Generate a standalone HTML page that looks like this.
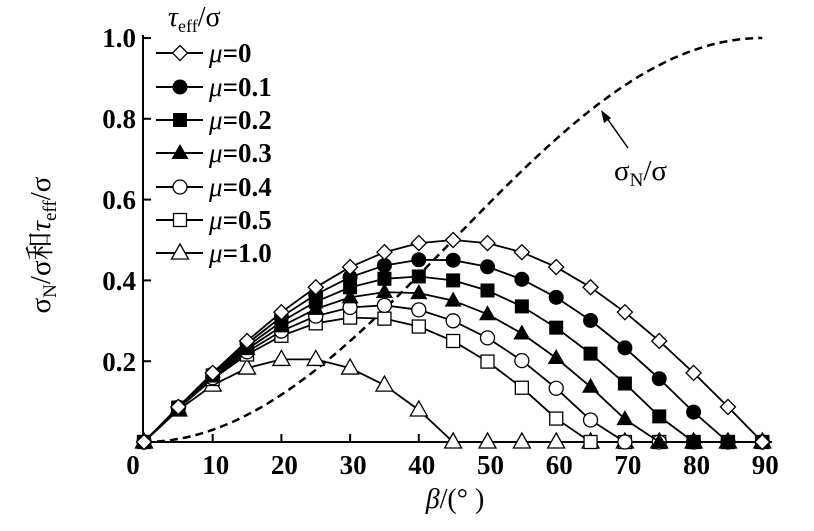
<!DOCTYPE html>
<html><head><meta charset="utf-8"><style>
html,body{margin:0;padding:0;background:#fff;width:814px;height:531px;overflow:hidden}
svg text{font-family:"Liberation Serif","Noto Serif CJK SC",serif;fill:#000}
</style></head><body>
<svg id="s" width="814" height="531" xmlns="http://www.w3.org/2000/svg">
<g stroke="#000" stroke-width="2" fill="none">
<line x1="143" y1="35" x2="143" y2="442"/>
<line x1="143" y1="442" x2="772" y2="442"/>
</g>
<g id="ticks" stroke="#000" stroke-width="2"></g>
<g font-size="27" font-weight="bold" text-anchor="end">
<text x="136" y="47">1.0</text>
<text x="136" y="128">0.8</text>
<text x="136" y="209">0.6</text>
<text x="136" y="290">0.4</text>
<text x="136" y="371">0.2</text>
</g>
<g font-size="27" font-weight="bold" text-anchor="middle" id="xl"></g>
<text x="455" y="508" font-size="28" text-anchor="middle"><tspan font-style="italic">β</tspan>/(° )</text>
<text transform="translate(50,245) rotate(-90)" font-size="29" text-anchor="middle">σ<tspan font-size="19" dy="6">N</tspan><tspan dy="-6">/σ和</tspan><tspan font-style="italic">τ</tspan><tspan font-size="19" dy="6">eff</tspan><tspan dy="-6">/σ</tspan></text>
<text x="168" y="26" font-size="28"><tspan font-style="italic">τ</tspan><tspan font-size="18" dy="6">eff</tspan><tspan dy="-6">/σ</tspan></text>
<line x1="628" y1="148" x2="604" y2="114" stroke="#000" stroke-width="1.5"/>
<polygon points="601,110 604,123 611,118" fill="#000"/>
<text x="614" y="180" font-size="29">σ<tspan font-size="19" dy="6">N</tspan><tspan dy="-6">/σ</tspan></text>
<g id="plot"></g>
<g id="leg"></g>
</svg>
<script>
var NS="http://www.w3.org/2000/svg";
function el(p,t,a){var e=document.createElementNS(NS,t);for(var k in a)e.setAttribute(k,a[k]);p.appendChild(e);return e;}
var X=function(b){return 144+b*6.87};var Y=function(v){return 442-v*404};
var tk=document.getElementById('ticks'),xl=document.getElementById('xl');
for(var i=0;i<=9;i++){var x=X(i*10);if(i>0)el(tk,'line',{x1:x,y1:442,x2:x,y2:434});var t=el(xl,'text',{x:i==0?133:x+3,y:474});t.textContent=i*10;}
for(var v=0.2;v<1.01;v+=0.2){el(tk,'line',{x1:143,y1:Y(v),x2:151,y2:Y(v)});}
var plot=document.getElementById('plot');
var d='';for(var b=0;b<=90;b+=1){var r=b*Math.PI/180;d+=(b?'L':'M')+X(b).toFixed(1)+' '+Y(Math.pow(Math.sin(r),2)).toFixed(1);}
el(plot,'path',{d:d,fill:'none',stroke:'#000','stroke-width':2.5,'stroke-dasharray':'8,5'});
var mus=[0,0.1,0.2,0.3,0.4,0.5,1.0],mk=['dia','fc','fs','ft','oc','os','ot'];
function marker(g,m,x,y){
 if(m=='dia')el(g,'polygon',{points:(x)+','+(y-7.5)+' '+(x+7.5)+','+y+' '+x+','+(y+7.5)+' '+(x-7.5)+','+y,fill:'#fff',stroke:'#000','stroke-width':1.3});
 else if(m=='fc')el(g,'circle',{cx:x,cy:y,r:7.5,fill:'#000'});
 else if(m=='oc')el(g,'circle',{cx:x,cy:y,r:7,fill:'#fff',stroke:'#000','stroke-width':1.3});
 else if(m=='fs')el(g,'rect',{x:x-7,y:y-7,width:14,height:14,fill:'#000'});
 else if(m=='os')el(g,'rect',{x:x-6.5,y:y-6.5,width:13,height:13,fill:'#fff',stroke:'#000','stroke-width':1.3});
 else if(m=='ft')el(g,'polygon',{points:x+','+(y-9)+' '+(x+8.5)+','+(y+6)+' '+(x-8.5)+','+(y+6),fill:'#000'});
 else el(g,'polygon',{points:x+','+(y-9)+' '+(x+8.5)+','+(y+6)+' '+(x-8.5)+','+(y+6),fill:'#fff',stroke:'#000','stroke-width':1.3});
}
for(var j=mus.length-1;j>=0;j--){var mu=mus[j];var pts=[];
 for(var b=0;b<=90;b+=5){var r=b*Math.PI/180;var v=Math.sin(r)*Math.cos(r)-mu*Math.sin(r)*Math.sin(r);if(v<0)v=0;pts.push([X(b),Y(v)]);}
 el(plot,'polyline',{points:pts.map(function(p){return p[0].toFixed(1)+','+p[1].toFixed(1)}).join(' '),fill:'none',stroke:'#000','stroke-width':1.8});
 pts.forEach(function(p){marker(plot,mk[j],p[0],p[1]);});
}
var leg=document.getElementById('leg');var ly=[53,87,120,153,187,220,253],lt=['0','0.1','0.2','0.3','0.4','0.5','1.0'];
for(var j=0;j<7;j++){el(leg,'line',{x1:156,y1:ly[j],x2:203,y2:ly[j],stroke:'#000','stroke-width':2});marker(leg,mk[j],180,ly[j]);
 var t=el(leg,'text',{x:209,y:ly[j]+9,'font-size':27,'font-weight':'bold'});t.innerHTML='<tspan font-style="italic" font-weight="normal">μ</tspan>='+lt[j];}
</script>
</body></html>
